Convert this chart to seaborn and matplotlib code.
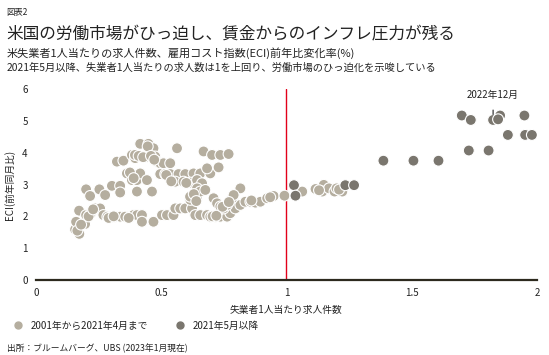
import pandas as pd
import numpy as np
import seaborn as sns
import matplotlib.pyplot as plt

# 2001年から2021年4月まで
early_x = [0.173, 0.156, 0.16, 0.172, 0.196, 0.2, 0.219, 0.236, 0.256, 0.269,
           0.285, 0.303, 0.316, 0.336, 0.356, 0.376, 0.389, 0.403, 0.423, 0.423,
           0.469, 0.503, 0.523, 0.549, 0.556, 0.576, 0.596, 0.623, 0.636, 0.656,
           0.683, 0.696, 0.716, 0.736, 0.763, 0.776, 0.796, 0.816, 0.836, 0.856,
           0.876, 0.896, 0.923, 0.949, 0.992, 1.063, 1.116, 1.149, 1.143, 1.17,
           1.192, 1.223, 1.2,
           0.2, 0.216, 0.253, 0.276, 0.303, 0.336, 0.336, 0.323, 0.349, 0.383,
           0.396, 0.416, 0.449, 0.469, 0.436, 0.476, 0.483, 0.496, 0.509, 0.536,
           0.363, 0.383, 0.403, 0.416, 0.443, 0.403, 0.463, 0.496, 0.516, 0.536,
           0.569, 0.596, 0.629, 0.656, 0.696, 0.563, 0.556, 0.589, 0.616, 0.643,
           0.663, 0.683, 0.669, 0.703, 0.736, 0.769, 0.729, 0.643, 0.629, 0.616,
           0.643, 0.656, 0.676, 0.709, 0.723, 0.736, 0.749, 0.763, 0.783, 0.816,
           0.789,
           0.165, 0.18, 0.21, 0.228, 0.29, 0.31, 0.37, 0.395, 0.41, 0.428,
           0.446, 0.459, 0.472, 0.375, 0.39, 0.52, 0.54, 0.60, 0.615, 0.63,
           0.64, 0.705, 0.72, 0.745, 0.77, 0.86, 0.935, 1.13, 1.21]
early_y = [1.45, 1.59, 1.83, 2.18, 1.76, 2.04, 2.10, 2.25, 2.25, 2.04,
           1.99, 1.97, 1.99, 1.99, 1.99, 1.99, 2.04, 2.04, 2.04, 1.83,
           1.83, 2.04, 2.04, 2.04, 2.25, 2.25, 2.25, 2.25, 2.04, 2.04,
           2.04, 1.99, 1.99, 1.99, 1.99, 2.10, 2.25, 2.36, 2.46, 2.46,
           2.43, 2.46, 2.57, 2.64, 2.65, 2.78, 2.86, 2.99, 2.78, 2.88,
           2.78, 2.78, 2.88,
           2.85, 2.64, 2.85, 2.67, 2.96, 2.96, 2.75, 3.72, 3.75, 3.93,
           3.83, 4.28, 4.28, 4.14, 3.86, 3.88, 3.72, 3.67, 3.67, 3.67,
           3.35, 3.14, 3.14, 3.35, 3.14, 2.78, 2.78, 3.33, 3.33, 3.33,
           3.33, 3.33, 3.35, 3.35, 3.35, 4.14, 3.09, 3.09, 3.06, 3.14,
           3.04, 3.51, 4.04, 3.93, 3.93, 3.96, 3.54, 2.88, 2.67, 2.52,
           2.57, 2.78, 2.83, 2.57, 2.41, 2.31, 2.25, 2.36, 2.57, 2.88,
           2.67,
           1.55, 1.74, 2.0, 2.22, 1.95, 2.0, 1.95, 3.93, 3.9, 3.86,
           4.2, 3.9, 3.78, 3.38, 3.2, 3.3, 3.1, 3.05, 2.62, 2.7,
           2.48, 2.0, 2.02, 2.3, 2.45, 2.5, 2.6, 2.82, 2.84]

# 2021年5月以降
late_x = [1.03, 1.036, 1.235, 1.27, 1.387, 1.507, 1.607, 1.728, 1.807, 1.70,
          1.736, 1.825, 1.853, 1.845, 1.884, 1.95, 1.953, 1.98]
late_y = [2.98, 2.65, 2.98, 2.98, 3.75, 3.75, 3.75, 4.07, 4.07, 5.17,
          5.03, 5.03, 5.17, 5.05, 4.56, 5.17, 4.56, 4.56]

lab_early = "2001年から2021年4月まで"
lab_late = "2021年5月以降"

df = pd.DataFrame({
    "x": early_x + late_x,
    "y": early_y + late_y,
    "period": [lab_early] * len(early_x) + [lab_late] * len(late_x),
})

sns.set_style("white")
plt.rcParams["font.family"] = ["Noto Sans CJK JP", "DejaVu Sans"]

light = "#b5ae9f"
dark = "#7a766e"
txt = "#222222"

fig = plt.figure(figsize=(5.49, 3.55), dpi=100)
ax = fig.add_axes([0.0656, 0.2113, 0.9124, 0.5377])

sns.scatterplot(data=df, x="x", y="y", hue="period",
                palette={lab_early: light, lab_late: dark},
                s=62, edgecolor="white", linewidth=0.8, alpha=1,
                legend=False, ax=ax, zorder=3)

ax.axvline(1, color="#e2001a", lw=1, zorder=2)

ax.set_xlim(0, 2)
ax.set_ylim(0, 6)
ax.set_xticks([0, 0.5, 1, 1.5, 2])
ax.set_xticklabels(["0", "0.5", "1", "1.5", "2"])
ax.set_yticks(range(7))
ax.tick_params(length=0, labelsize=7, colors=txt, pad=6)
for s in ["top", "right", "left"]:
    ax.spines[s].set_visible(False)
ax.spines["bottom"].set_color("#2d2a1e")
ax.spines["bottom"].set_linewidth(1.6)
ax.spines["bottom"].set_zorder(4)
ax.set_xlabel("失業者1人当たり求人件数", fontsize=7, color=txt, labelpad=5)
ax.set_ylabel("ECI(前年同月比)", fontsize=7, color=txt, labelpad=5)

# annotation for the latest point
ax.annotate("2022年12月", xy=(1.825, 5.2), xytext=(1.825, 5.82),
            ha="center", va="center", fontsize=7, color=txt,
            arrowprops=dict(arrowstyle="-", color=txt, lw=0.8, shrinkA=5, shrinkB=0))

# titles
fig.text(0.012, 0.965, "図表2", fontsize=6, color=txt, va="center")
fig.text(0.012, 0.905, "米国の労働市場がひっ迫し、賃金からのインフレ圧力が残る",
         fontsize=12, color=txt, va="center")
fig.text(0.012, 0.851, "米失業者1人当たりの求人件数、雇用コスト指数(ECI)前年比変化率(%)",
         fontsize=8, color=txt, va="center")
fig.text(0.012, 0.808, "2021年5月以降、失業者1人当たりの求人数は1を上回り、労働市場のひっ迫化を示唆している",
         fontsize=7.4, color=txt, va="center")

# legend
h1 = plt.Line2D([], [], marker="o", ls="", color=light, markersize=5)
h2 = plt.Line2D([], [], marker="o", ls="", color=dark, markersize=5)
fig.legend([h1, h2], [lab_early, lab_late], loc="center left",
           bbox_to_anchor=(0.0, 0.082), ncol=2, frameon=False, fontsize=7,
           handletextpad=0.3, columnspacing=2.2, labelcolor=txt)

fig.text(0.012, 0.012, "出所：ブルームバーグ、UBS (2023年1月現在)", fontsize=6.3, color=txt)

fig.savefig("out.png", dpi=100)
